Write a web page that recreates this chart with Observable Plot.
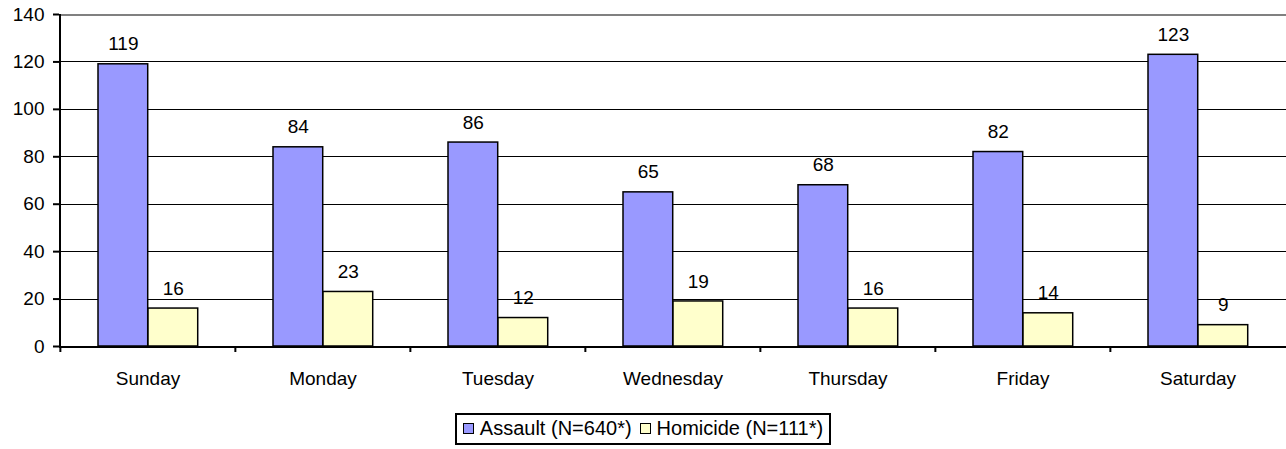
<!DOCTYPE html>
<html>
<head>
<meta charset="utf-8">
<script src="https://cdn.jsdelivr.net/npm/d3@7"></script>
<script src="https://cdn.jsdelivr.net/npm/@observablehq/plot@0.6"></script>
<style>
  body { margin: 0; background: #fff; font-family: "Liberation Sans", Arial, sans-serif; }
  #chart svg { display: block; }
  .legend { display: flex; justify-content: center; margin-top: 13px; }
  .legend-box { display: inline-flex; align-items: center; border: 2px solid #000; padding: 2px 6px 3px 6px; font-size: 20px; color: #000; }
  .item { display: inline-flex; align-items: center; margin-right: 8px; }
  .item:last-child { margin-right: 0; }
  .sw { width: 9px; height: 9px; border: 1px solid #000; margin-right: 6px; }
</style>
</head>
<body>
<div id="chart"></div>
<div class="legend"><div class="legend-box" id="legend"></div></div>
<script>
const days = ["Sunday", "Monday", "Tuesday", "Wednesday", "Thursday", "Friday", "Saturday"];
const assault = [119, 84, 86, 65, 68, 82, 123];
const homicide = [16, 23, 12, 19, 16, 14, 9];
const seriesNames = ["Assault (N=640*)", "Homicide (N=111*)"];
const seriesColors = ["#9999FF", "#FFFFCC"];
const yTicks = [0, 20, 40, 60, 80, 100, 120, 140];

const W = 1286, H = 400, ML = 59, MR = 0, MT = 14, MB = 54;
const step = (W - ML - MR) / days.length;
const barW = 50, gapL = 38;

const data = [];
days.forEach((d, i) => {
  data.push({day: d, series: 0, value: assault[i]});
  data.push({day: d, series: 1, value: homicide[i]});
});

const font = "Liberation Sans, Arial, sans-serif";

const chart = Plot.plot({
  width: W, height: H,
  marginLeft: ML, marginRight: MR, marginTop: MT, marginBottom: MB,
  style: {fontFamily: font, fontSize: "19px", color: "#000", background: "#fff"},
  x: {type: "band", domain: days, padding: 0, axis: null},
  y: {domain: [0, 140], axis: null},
  marks: [
    Plot.ruleY(yTicks.filter(v => v > 0 && v < 140), {stroke: "#000", strokeWidth: 1, shapeRendering: "crispEdges"}),
    Plot.ruleY([140], {stroke: "#808080", strokeWidth: 2, shapeRendering: "crispEdges"}),
    Plot.barY(data.filter(d => d.series === 0), {
      x: "day", y: "value", fill: seriesColors[0], stroke: "#000", strokeWidth: 1.5,
      insetLeft: gapL, insetRight: step - gapL - barW
    }),
    Plot.barY(data.filter(d => d.series === 1), {
      x: "day", y: "value", fill: seriesColors[1], stroke: "#000", strokeWidth: 1.5,
      insetLeft: gapL + barW, insetRight: step - gapL - 2 * barW
    }),
    Plot.text(data.filter(d => d.series === 0), {
      x: "day", y: "value", text: d => String(d.value),
      dx: gapL + barW / 2 - step / 2, dy: -20, fontSize: 19, fill: "#000"
    }),
    Plot.text(data.filter(d => d.series === 1), {
      x: "day", y: "value", text: d => String(d.value),
      dx: gapL + 1.5 * barW - step / 2, dy: -20, fontSize: 19, fill: "#000"
    }),
    Plot.ruleY([0], {stroke: "#000", strokeWidth: 2, shapeRendering: "crispEdges"}),
    Plot.frame({anchor: "left", stroke: "#000", strokeWidth: 2, shapeRendering: "crispEdges"}),
    Plot.axisY({ticks: yTicks, tickSize: 6, tickPadding: 9, fontSize: 19, label: null, stroke: "#000", strokeWidth: 2}),
    Plot.axisX({ticks: days, tickSize: 6, tickFormat: () => "", label: null, dx: -step / 2, stroke: "#000", strokeWidth: 2}),
    Plot.axisX({ticks: days, tickSize: 0, tickPadding: 25, fontSize: 19, label: null})
  ]
});
document.getElementById("chart").appendChild(chart);

const legend = document.getElementById("legend");
seriesNames.forEach((name, i) => {
  const item = document.createElement("span");
  item.className = "item";
  const sw = document.createElement("span");
  sw.className = "sw";
  sw.style.background = seriesColors[i];
  item.appendChild(sw);
  item.appendChild(document.createTextNode(name));
  legend.appendChild(item);
});
</script>
</body>
</html>
